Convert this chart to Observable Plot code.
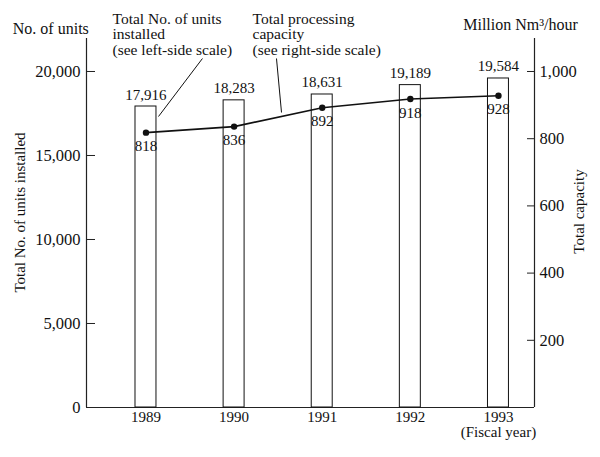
<!DOCTYPE html>
<html>
<head>
<meta charset="utf-8">
<script src="https://cdn.jsdelivr.net/npm/d3@7"></script>
<script src="https://cdn.jsdelivr.net/npm/@observablehq/plot@0.6"></script>
<style>
  body { margin: 0; background: #fff; }
  #chart svg { display: block; }
</style>
</head>
<body>
<div id="chart"></div>
<script>
// Data
const years = [1989, 1990, 1991, 1992, 1993];
const units = [17916, 18283, 18631, 19189, 19584];          // left scale
const capacity = [818, 836, 892, 918, 928];                  // right scale (Million Nm3/hour)
const leftTicks = [0, 5000, 10000, 15000, 20000];
const rightTicks = [200, 400, 600, 800, 1000];
const RATIO = 20; // 1,000 Million Nm3/hour on the right aligns with 20,000 units on the left

// Annotations (in data coordinates: x = fiscal year, y = left-scale units)
const notesStart = [
  {x: 1988.62, y: 23500, text: "Total No. of units\ninstalled\n(see left-side scale)"},
  {x: 1990.21, y: 23500, text: "Total processing\ncapacity\n(see right-side scale)"}
];
const notesMiddle = [
  {x: 1987.92, y: 22900, text: "No. of units"},
  {x: 1993.25, y: 23150, text: "Million Nm³/hour"}
];
const rotatedLabels = [
  {x: 1987.576, y: 11607, text: "Total No. of units installed"},
  {x: 1993.919, y: 11667, text: "Total capacity"}
];
const leaders = [
  {x1: 1989.641, y1: 20774, x2: 1989.142, y2: 17321},
  {x1: 1990.481, y1: 20774, x2: 1990.538, y2: 17560}
];

const rows = years.map((yr, i) => ({year: yr, units: units[i], cap: capacity[i], capScaled: capacity[i] * RATIO}));
const X0 = 1988.325, X1 = 1993.409, YMAX = 21964;
const halfBar = 0.119;
const fmt = d3.format(",");

const chart = Plot.plot({
  width: 600,
  height: 457,
  marginLeft: 86,
  marginRight: 66,
  marginTop: 38,
  marginBottom: 50,
  style: {fontFamily: "'Liberation Serif', 'Times New Roman', serif", fontSize: "15px", color: "#111", background: "#fff"},
  x: {type: "linear", domain: [X0, X1]},
  y: {domain: [0, YMAX]},
  marks: [
    // axes frame lines
    Plot.ruleX([X0], {y1: 0, y2: YMAX, stroke: "#222", strokeWidth: 1.2}),
    Plot.ruleX([X1], {y1: 0, y2: YMAX, stroke: "#222", strokeWidth: 1.2}),
    Plot.ruleY([0], {x1: X0, x2: X1, stroke: "#222", strokeWidth: 1.2}),
    // left axis with inward ticks
    Plot.axisY(leftTicks, {anchor: "left", tickSize: -9, tickPadding: 15, tickFormat: fmt, label: null, stroke: "#222", fontSize: 16.5}),
    // right axis with inward ticks (capacity scale)
    Plot.axisY(rightTicks.map(d => d * RATIO), {anchor: "right", tickSize: -8, tickPadding: 13, tickFormat: d => fmt(d / RATIO), label: null, stroke: "#222", fontSize: 16.5}),
    // x axis labels
    Plot.axisX(years, {anchor: "bottom", tickSize: 0, tickPadding: 4, tickFormat: d => d === 1993 ? "1993\n(Fiscal year)" : String(d), label: null}),
    // bars
    Plot.rect(rows, {x1: d => d.year - halfBar, x2: d => d.year + halfBar, y1: 0, y2: "units", fill: "#fff", stroke: "#111", strokeWidth: 1}),
    // bar value labels
    Plot.text(rows, {x: "year", y: "units", text: d => fmt(d.units), lineAnchor: "bottom", dy: -7, fill: "#111"}),
    // capacity line
    Plot.line(rows, {x: "year", y: "capScaled", stroke: "#111", strokeWidth: 1.6}),
    Plot.dot(rows, {x: "year", y: "capScaled", r: 3.2, fill: "#111", stroke: null}),
    Plot.text(rows, {x: "year", y: "capScaled", text: d => String(d.cap), lineAnchor: "top", dy: 8, fill: "#111"}),
    // annotations
    Plot.text(notesStart, {x: "x", y: "y", text: "text", textAnchor: "start", lineAnchor: "top", lineHeight: 1, fontSize: 15.5, fill: "#111"}),
    Plot.text(notesMiddle, {x: "x", y: "y", text: "text", textAnchor: "middle", lineAnchor: "top", fontSize: 16, fill: "#111"}),
    Plot.text(rotatedLabels, {x: "x", y: "y", text: "text", rotate: -90, textAnchor: "middle", lineAnchor: "middle", fill: "#111"}),
    Plot.link(leaders, {x1: "x1", y1: "y1", x2: "x2", y2: "y2", stroke: "#111", strokeWidth: 1})
  ]
});
document.getElementById("chart").appendChild(chart);
</script>
</body>
</html>
